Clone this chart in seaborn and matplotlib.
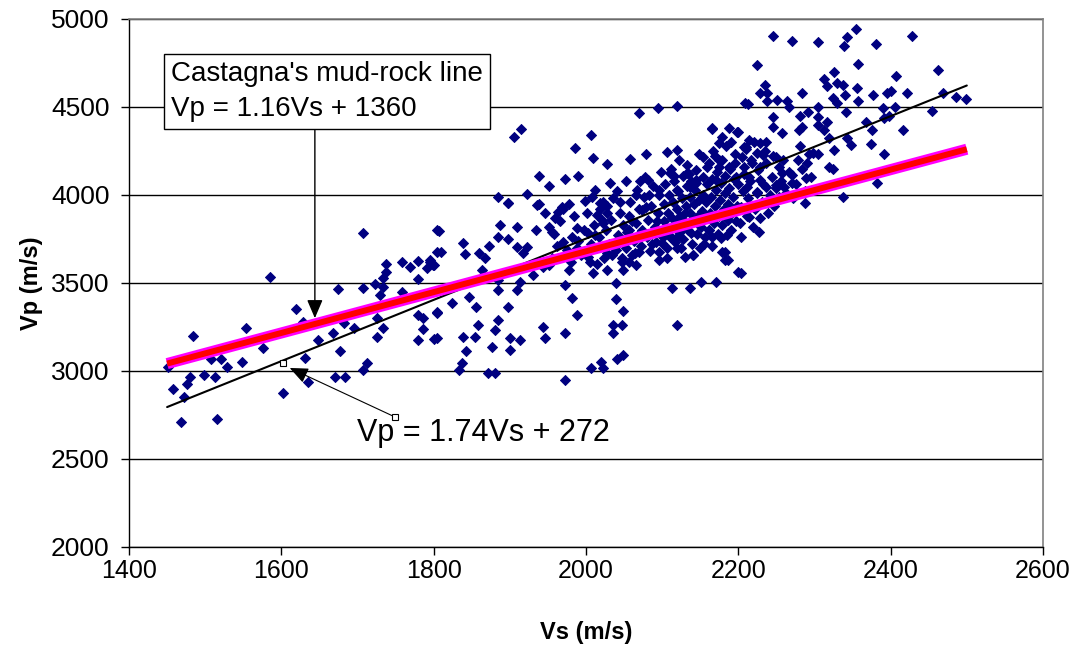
import matplotlib
matplotlib.use("Agg")
import matplotlib.pyplot as plt
import numpy as np
import pandas as pd
import seaborn as sns

# ---------------- data (Vs, Vp) ----------------
left_points = [
    (1707, 3784), (1585, 3534), (1484, 3199), (1553, 3244), (1576, 3131), (1508, 3068),
    (1521, 3068), (1529, 3023), (1548, 3051), (1451, 3023), (1480, 2966), (1476, 2926),
    (1498, 2977), (1513, 2966), (1458, 2898), (1472, 2852), (1468, 2710), (1515, 2727),
    (1602, 2875), (1619, 3352), (1628, 3278), (1648, 3176), (1631, 3074), (1635, 2937),
    (1670, 2966), (1683, 2966), (1668, 3216), (1677, 3114), (1682, 3273), (1696, 3244),
    (1707, 3006), (1712, 3045), (1725, 3193), (1733, 3244), (1725, 3301), (1674, 3466),
    (1707, 3472), (1723, 3494), (1733, 3477), (1729, 3432), (1733, 3528), (1738, 3562),
    (1738, 3608), (1758, 3449), (1759, 3619), (1769, 3591), (1780, 3625), (1791, 3585),
    (1795, 3619), (1801, 3602), (1804, 3801), (1805, 3676), (1780, 3523), (1779, 3318),
    (1786, 3301), (1786, 3239), (1779, 3176), (1800, 3182), (1804, 3330),
]

mid_points = [
    (1905, 4330), (1914, 4375), (2006, 4341), (1986, 4267), (2009, 4210), (2028, 4176),
    (2058, 4205), (2079, 4233), (2069, 4466), (2094, 4494), (2120, 4506), (2209, 4523),
    (2106, 4244), (2120, 4256), (1938, 4108), (1952, 4051), (1973, 4091), (1990, 4108),
    (1885, 3989), (1898, 3955), (1922, 4006), (1938, 3949), (1968, 3932), (1999, 3966),
    (2012, 4028), (2031, 4068), (2053, 4080), (2081, 4085), (2166, 4381), (2179, 4330),
    (2188, 4381), (2198, 4358), (2175, 4296), (2190, 4301), (2153, 4216), (2159, 4159),
    (2145, 4085), (2132, 4125), (2110, 4125), (2096, 4028), (2119, 4028), (2136, 4045),
    (2175, 4199), (2188, 4159), (2205, 4216), (2208, 4273), (2197, 4102), (2171, 4085),
    (2066, 4000), (2044, 3960), (2022, 3960),
    (1807, 3795), (1810, 3676), (1799, 3602), (1838, 3727), (1841, 3665), (1860, 3670),
    (1872, 3710), (1867, 3642), (1884, 3761), (1898, 3955), (1887, 3830), (1909, 3818),
    (1898, 3750), (1910, 3705), (1922, 3705), (1917, 3670), (1863, 3574), (1884, 3517),
    (1884, 3460), (1913, 3506), (1910, 3460), (1930, 3545), (1935, 3801), (1946, 3898),
    (1936, 3943), (1959, 3869), (1956, 3790), (1970, 3920), (1952, 3602), (1943, 3591),
    (1970, 3733), (1978, 3574), (1982, 3761), (1988, 3812), (2002, 3784), (2005, 3619),
    (2009, 3557), (2001, 3898), (2014, 3886), (2018, 3955), (2022, 3841), (2028, 3898),
    (2027, 3670), (2027, 3574), (2040, 3500), (2041, 3716), (2048, 3574), (2047, 3642),
    (2057, 3801), (2064, 3670), (2066, 3602), (2070, 3676), (2086, 3784), (2096, 3676),
    (2100, 3727), (2096, 3631), (2107, 3642), (2110, 3761), (2119, 3761), (2123, 3858),
    (2140, 3659), (2138, 3784), (2145, 3858), (2162, 3801), (2177, 3756), (2179, 3676),
    (2182, 3631), (2199, 3562), (2171, 3506), (2151, 3506), (2136, 3472), (2113, 3472),
    (2119, 3261), (1972, 3489), (1982, 3415), (1988, 3318), (2039, 3409), (2049, 3341),
    (2035, 3261), (2047, 3261), (2035, 3216), (2049, 3091), (2041, 3068), (2020, 3051),
    (2022, 3017), (2007, 3017), (1972, 2949), (1972, 3216), (1944, 3250), (1946, 3187),
    (1913, 3176), (1900, 3187), (1900, 3119), (1876, 3136), (1880, 3233), (1884, 3290),
    (1898, 3364), (1858, 3261), (1854, 3193), (1838, 3193), (1843, 3114), (1837, 3045),
    (1833, 3006), (1871, 2989), (1880, 2989), (1856, 3364), (1847, 3420), (1824, 3386),
    (1804, 3335), (1804, 3187), (1795, 3631), (2074, 3915),
]

upper_points = [
    (2245, 4903), (2270, 4875), (2305, 4869), (2339, 4847), (2343, 4898), (2355, 4943),
    (2381, 4858), (2428, 4903), (2224, 4739), (2357, 4744), (2325, 4699), (2462, 4710),
    (2407, 4676), (2313, 4659), (2317, 4619), (2329, 4636), (2337, 4625), (2235, 4625),
    (2229, 4580), (2238, 4580), (2238, 4534), (2251, 4540), (2264, 4534), (2266, 4500),
    (2284, 4580), (2213, 4517), (2304, 4500), (2324, 4551), (2330, 4523), (2340, 4568),
    (2356, 4608), (2357, 4534), (2377, 4568), (2395, 4580), (2401, 4591), (2422, 4580),
    (2469, 4580), (2486, 4557), (2499, 4545), (2390, 4494), (2406, 4500), (2454, 4477),
    (2245, 4443), (2245, 4386), (2258, 4352), (2281, 4449), (2292, 4472), (2304, 4443),
    (2284, 4386), (2280, 4369), (2304, 4398), (2317, 4415), (2313, 4369), (2319, 4324),
    (2342, 4472), (2367, 4415), (2376, 4369), (2416, 4369), (2391, 4437), (2398, 4449),
    (2343, 4324), (2348, 4284), (2374, 4290), (2326, 4256), (2391, 4233), (2293, 4233),
    (2304, 4233), (2278, 4199), (2290, 4182), (2319, 4159), (2324, 4148), (2289, 4097),
    (2270, 4114), (2271, 4068), (2250, 4216), (2254, 4159), (2258, 4125), (2250, 4057),
    (2260, 4045), (2382, 4068), (2287, 3955), (2338, 3989), (2214, 4313), (2228, 4296),
    (2236, 4301), (2210, 4273), (2224, 4239), (2232, 4227), (2218, 4182), (2228, 4159),
    (2208, 4159), (2214, 4102), (2228, 4085), (2236, 4045), (2224, 4017), (2212, 4045),
    (2214, 3875), (2204, 3557), (2165, 4375), (2200, 4358), (2140, 3660), (2182, 3676),
    (2186, 3630), (2150, 3700), (2120, 3700), (2165, 3710), (2130, 3650),
]

dense_points = [
    (1955, 3640), (1962, 3710), (1958, 3780), (1966, 3850), (1975, 3690), (1980, 3620),
    (1984, 3880), (1990, 3740), (1994, 3660), (1997, 3800), (1963, 3905), (1978, 3950),
    (1988, 3700), (1952, 3820),
    (2003, 3650), (2006, 3720), (2010, 3830), (2013, 3700), (2017, 3760), (2019, 3920),
    (2024, 3640), (2026, 3800), (2030, 3720), (2033, 3860), (2036, 3980), (2039, 3690),
    (2042, 3770), (2045, 3900), (2047, 3620), (2049, 3830), (2008, 3990), (2015, 3610),
    (2028, 3940), (2041, 4020), (2044, 3740), (2034, 3660), (2021, 3860), (2012, 3770),
    (2052, 3700), (2054, 3790), (2056, 3880), (2058, 3960), (2061, 3660), (2063, 3740),
    (2065, 3840), (2067, 4030), (2070, 3920), (2072, 3710), (2074, 3800), (2076, 3990),
    (2078, 4100), (2080, 3760), (2082, 3860), (2084, 3680), (2086, 3940), (2088, 4050),
    (2090, 3820), (2092, 3730), (2094, 3900), (2096, 4000), (2098, 3780), (2099, 4130),
    (2060, 3850), (2068, 3770), (2079, 3930), (2087, 3720), (2093, 3850), (2071, 4080),
    (2057, 3620), (2083, 4000),
    (2101, 3760), (2102, 3850), (2103, 3950), (2104, 4060), (2106, 3700), (2107, 3810),
    (2108, 3900), (2109, 4000), (2111, 4150), (2112, 3760), (2113, 3870), (2114, 3960),
    (2116, 4080), (2117, 3730), (2118, 3830), (2119, 3920), (2121, 4020), (2122, 4200),
    (2123, 3790), (2124, 3880), (2126, 3980), (2127, 4110), (2128, 3750), (2129, 3850),
    (2131, 3940), (2132, 4050), (2133, 4170), (2134, 3800), (2136, 3900), (2137, 3990),
    (2138, 4080), (2139, 3720), (2141, 3860), (2142, 3950), (2143, 4030), (2144, 4140),
    (2146, 3780), (2147, 3880), (2148, 3970), (2149, 4230), (2105, 3790), (2115, 4110),
    (2125, 3700), (2135, 4120), (2145, 4070), (2120, 3800), (2130, 3900),
    (2151, 3820), (2152, 3910), (2153, 4000), (2154, 4100), (2156, 3760), (2157, 3870),
    (2158, 3960), (2159, 4060), (2161, 4180), (2162, 3800), (2163, 3900), (2164, 3990),
    (2166, 4090), (2167, 4250), (2168, 3840), (2169, 3940), (2171, 4030), (2172, 4130),
    (2173, 3780), (2174, 3880), (2176, 3970), (2177, 4070), (2178, 4200), (2179, 3830),
    (2181, 3920), (2182, 4010), (2183, 4110), (2184, 4280), (2186, 3860), (2187, 3950),
    (2188, 4040), (2189, 4150), (2191, 3800), (2192, 3900), (2193, 3990), (2194, 4090),
    (2196, 4230), (2197, 3850), (2198, 3940), (2199, 4060), (2155, 3720), (2165, 3760),
    (2175, 4160), (2185, 3770), (2195, 4180), (2170, 4220),
    (2202, 3840), (2204, 3930), (2206, 4020), (2208, 4120), (2211, 3880), (2213, 3980),
    (2215, 4080), (2217, 4200), (2219, 3820), (2222, 3920), (2224, 4010), (2226, 4140),
    (2229, 3870), (2231, 3960), (2233, 4060), (2236, 4180), (2239, 3900), (2241, 4000),
    (2244, 4100), (2247, 3940), (2249, 4040), (2210, 4260), (2220, 4300), (2235, 4250),
    (2245, 4220), (2203, 3760), (2227, 3790),
    (2253, 3990), (2256, 4080), (2262, 4010), (2266, 4130), (2272, 3980), (2276, 4060),
    (2283, 4150), (2288, 4020), (2295, 4100), (2298, 4240), (2259, 4200), (2281, 4280),
]

# line end points (Vs range of the data)
line_vs = [1450, 2500]
castagna_vp = [3042, 4260]      # Vp = 1.16Vs + 1360
fit_vp = [2795, 4622]           # Vp = 1.74Vs + 272

x_ticks = [1400, 1600, 1800, 2000, 2200, 2400, 2600]
y_ticks = [2000, 2500, 3000, 3500, 4000, 4500, 5000]

castagna_label = "Castagna's mud-rock line\nVp = 1.16Vs + 1360"
fit_label = "Vp = 1.74Vs + 272"

# ---------------- plotting ----------------
sns.set_theme(style="white")
plt.rcParams["font.family"] = ["Liberation Sans", "DejaVu Sans"]
plt.rcParams["text.color"] = "black"
plt.rcParams["axes.labelcolor"] = "black"
plt.rcParams["xtick.color"] = "black"
plt.rcParams["ytick.color"] = "black"

all_pts = left_points + mid_points + upper_points + dense_points
df = pd.DataFrame(all_pts, columns=["Vs", "Vp"])

fig = plt.figure(figsize=(10.78, 6.5), dpi=100)
ax = fig.add_axes([0.1197, 0.1585, 0.8478, 0.8123])

sns.scatterplot(data=df, x="Vs", y="Vp", marker="D", color="#000080",
                edgecolor="#000080", linewidth=0.7, s=26, ax=ax, zorder=3, legend=False)

sns.lineplot(x=line_vs, y=fit_vp, color="black", lw=1.5, ax=ax, zorder=4)
sns.lineplot(x=line_vs, y=castagna_vp, color="#FF00FF", lw=8, ax=ax, zorder=4,
             solid_capstyle="butt")
sns.lineplot(x=line_vs, y=castagna_vp, color="#FF0000", lw=4.3, ax=ax, zorder=4,
             solid_capstyle="butt")

ax.set_xlim(1400, 2600)
ax.set_ylim(2000, 5000)
ax.set_xticks(x_ticks)
ax.set_yticks(y_ticks)
ax.set_xticklabels([str(v) for v in x_ticks])
ax.set_yticklabels([str(v) for v in y_ticks])

ax.yaxis.grid(True, color="black", lw=1)
ax.xaxis.grid(False)
ax.set_axisbelow(True)

for side in ["left", "bottom"]:
    ax.spines[side].set_color("black")
    ax.spines[side].set_linewidth(1)
for side in ["top", "right"]:
    ax.spines[side].set_color("#808080")
    ax.spines[side].set_linewidth(1.2)

ax.tick_params(axis="both", direction="out", length=6, width=1, color="black",
               labelcolor="black")
ax.tick_params(axis="y", pad=8, labelsize=19)
ax.tick_params(axis="x", pad=3, labelsize=18)
ax.tick_params(left=True, bottom=True)

ax.set_xlabel("Vs (m/s)", fontsize=17, fontweight="bold", labelpad=27, color="black")
ax.set_ylabel("Vp (m/s)", fontsize=17, fontweight="bold", labelpad=6, color="black")

# annotation box with arrow
ax.text(1455, 4760, castagna_label, fontsize=20, ha="left", va="top", color="black",
        linespacing=1.45,
        bbox=dict(boxstyle="square,pad=0.25", fc="white", ec="black", lw=1), zorder=6)
ax.annotate("", xy=(1644, 3300), xytext=(1644, 4386),
            arrowprops=dict(arrowstyle="-|>,head_length=0.75,head_width=0.32",
                            color="black", lw=1, mutation_scale=15,
                            shrinkA=0, shrinkB=0), zorder=5)

ax.text(1699, 2648, fit_label, fontsize=22, ha="left", va="center", color="black", zorder=6)
ax.annotate("", xy=(1611, 3017), xytext=(1749, 2739),
            arrowprops=dict(arrowstyle="-|>,head_length=0.75,head_width=0.32",
                            color="black", lw=0.8, mutation_scale=15,
                            shrinkA=0, shrinkB=0), zorder=6)
ax.plot([1602, 1749], [3045, 2739], linestyle="none", marker="s", markersize=5,
        markerfacecolor="white", markeredgecolor="black", markeredgewidth=0.8, zorder=7)

fig.savefig("out.png", dpi=100)
